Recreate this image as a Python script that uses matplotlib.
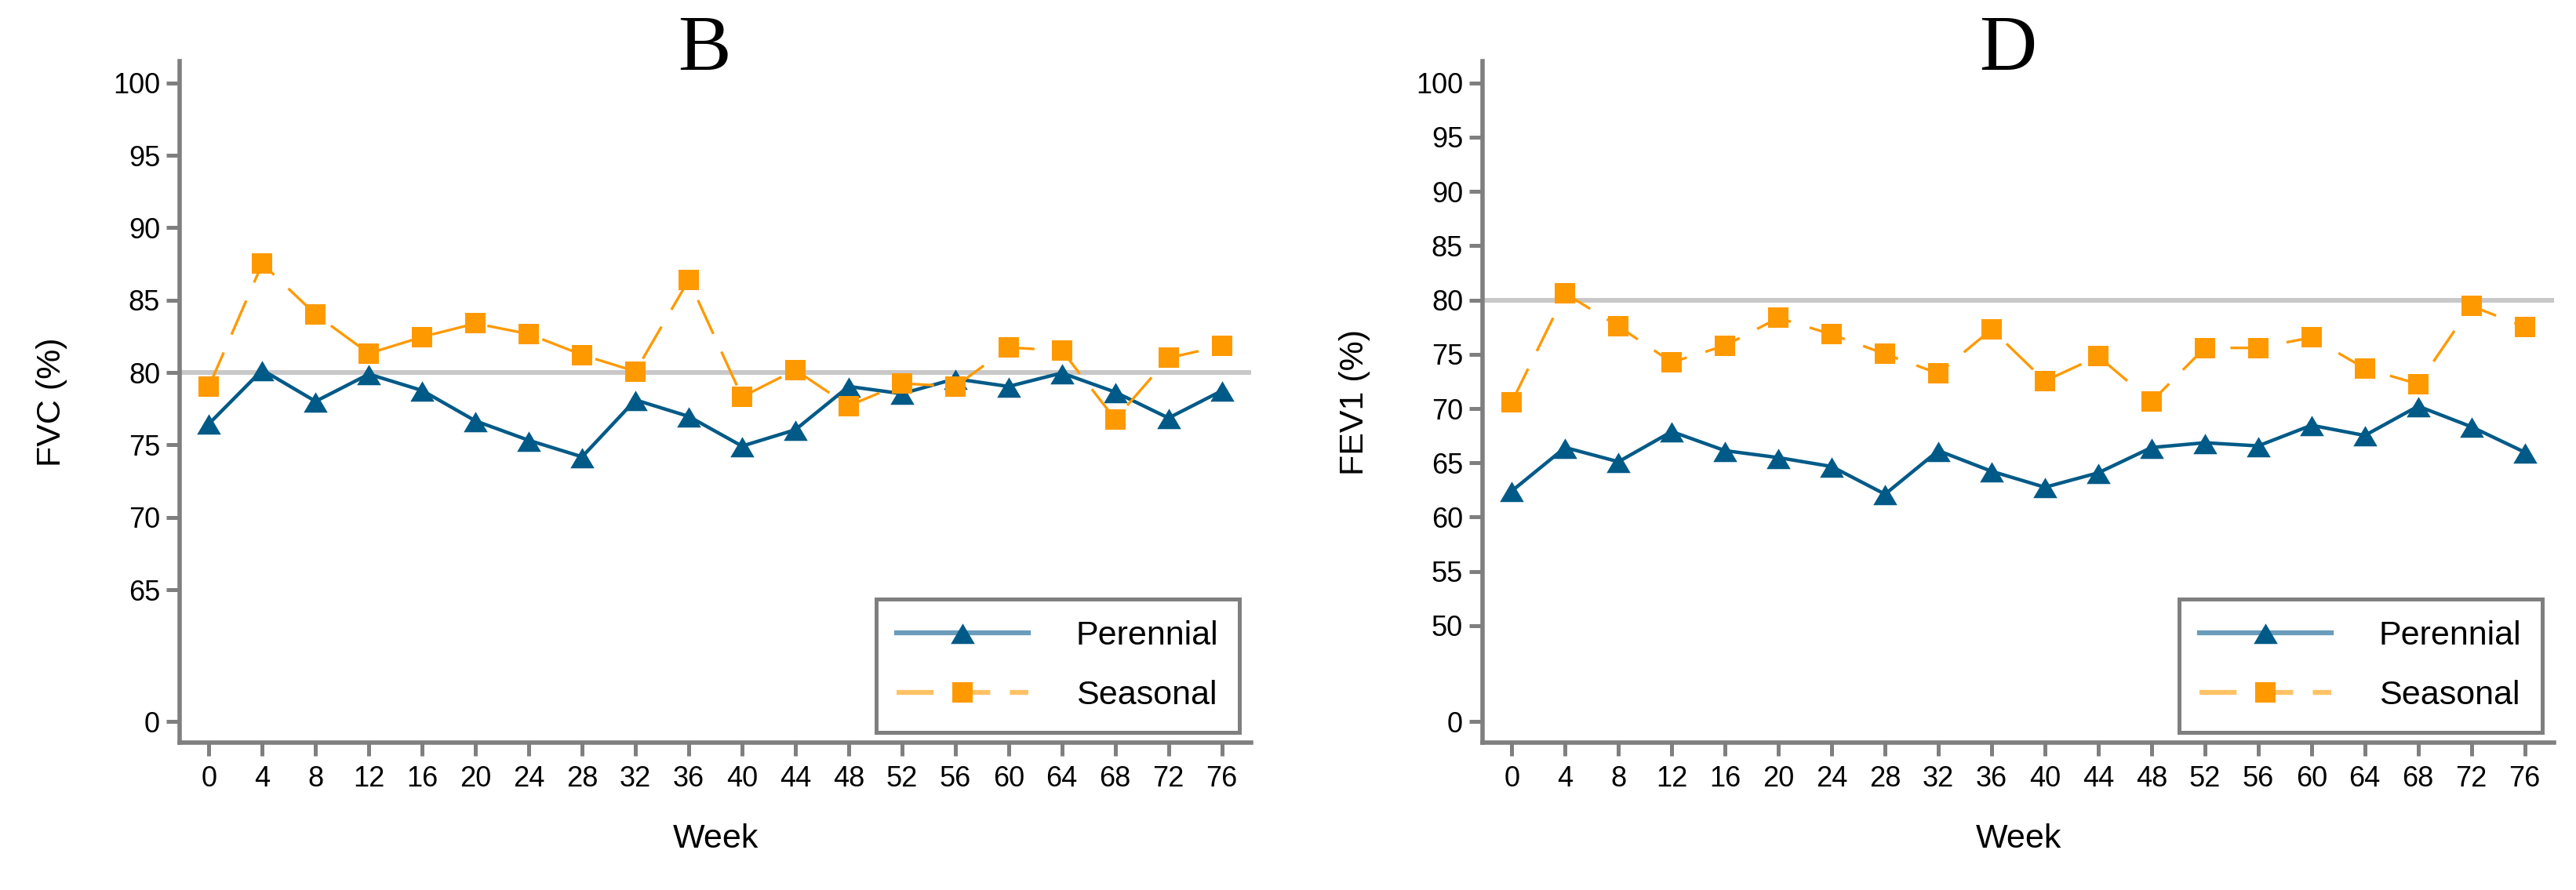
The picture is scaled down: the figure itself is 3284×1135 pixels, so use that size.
import matplotlib
matplotlib.use("Agg")
import matplotlib.pyplot as plt
import numpy as np
from matplotlib.lines import Line2D

# data
weeks = list(range(0, 80, 4))
fvc_perennial = [76.46, 80.18, 78.01, 79.89, 78.76, 76.66, 75.32, 74.18, 78.11, 76.97,
                 74.92, 76.05, 79.04, 78.54, 79.57, 79.04, 79.97, 78.65, 76.86, 78.74]
fvc_seasonal = [79.04, 87.52, 84.01, 81.32, 82.46, 83.39, 82.66, 81.22, 80.08, 86.39,
                78.32, 80.18, 77.70, 79.25, 79.04, 81.73, 81.52, 76.77, 81.01, 81.84]
fev1_perennial = [62.41, 66.41, 65.10, 67.88, 66.12, 65.48, 64.66, 62.11, 66.12, 64.22,
                  62.75, 64.08, 66.41, 66.85, 66.56, 68.46, 67.52, 70.22, 68.32, 65.98]
fev1_seasonal = [70.61, 80.61, 77.57, 74.26, 75.80, 78.35, 76.83, 75.03, 73.23, 77.30,
                 72.54, 74.81, 70.66, 75.59, 75.59, 76.55, 73.70, 72.26, 79.45, 77.52]
fvc_yticks = [0, 65, 70, 75, 80, 85, 90, 95, 100]
fev1_yticks = [0, 50, 55, 60, 65, 70, 75, 80, 85, 90, 95, 100]
ref_value = 80
series_names = ["Perennial", "Seasonal"]

plt.rcParams['font.family'] = ['Liberation Sans', 'DejaVu Sans']
plt.rcParams['lines.scale_dashes'] = False

BLUE = '#005a87'
BLUE_L = '#6a9cbb'
ORANGE = '#ff9900'
ORANGE_L = '#ffc266'
GRAY = '#7f7f7f'
tri = [(0, 0.8), (-1, -0.9), (1, -0.9), (0, 0.8)]
dash = (34, 18)


def broken_scale(lo, zero_at):
    # values below lo are squeezed so that 0 sits just under lo
    k = (lo - zero_at) / lo

    def fwd(y):
        y = np.asarray(y, float)
        return np.where(y >= lo, y, zero_at + y * k)

    def inv(t):
        t = np.asarray(t, float)
        return np.where(t >= lo, t, (t - zero_at) / k)
    return fwd, inv


fig = plt.figure(figsize=(32.84, 11.35), dpi=100)
W, H = 3284, 1135

panels = [
    dict(x0=229, title="B", ylabel="FVC (%)", per=fvc_perennial, sea=fvc_seasonal,
         ticks=fvc_yticks, lo=65, zero_at=55.9, bottom=54.45, top=101.5),
    dict(x0=1890, title="D", ylabel="FEV1 (%)", per=fev1_perennial, sea=fev1_seasonal,
         ticks=fev1_yticks, lo=50, zero_at=41.18, bottom=39.23, top=102.0),
]

for p in panels:
    ax = fig.add_axes([p['x0'] / W, 188 / H, 1366 / W, 869 / H])
    fwd, inv = broken_scale(p['lo'], p['zero_at'])
    ax.set_yscale('function', functions=(fwd, inv))

    ax.axhline(ref_value, color='#c8c8c8', lw=4.3, zorder=1)
    ax.plot(weeks, p['per'], color=BLUE, lw=3.2, marker=tri, markersize=22,
            markeredgewidth=0, zorder=3)
    ax.plot(weeks, p['sea'], color=ORANGE, lw=2.4, dashes=dash, marker='s',
            markersize=19, markeredgewidth=0, zorder=4)

    ax.set_xlim(-2.2, 78.2)
    ax.set_ylim(float(inv(p['bottom'])), p['top'])
    ax.set_xticks(weeks)
    ax.set_yticks(p['ticks'])
    ax.set_yticklabels([str(t) for t in p['ticks']])
    ax.minorticks_off()

    for s in ['top', 'right']:
        ax.spines[s].set_visible(False)
    for s in ['left', 'bottom']:
        ax.spines[s].set_color(GRAY)
        ax.spines[s].set_linewidth(4)
    ax.tick_params(direction='out', length=12, width=3.6, color=GRAY,
                   labelsize=26, pad=6)
    ax.tick_params(axis='x', pad=9)

    ax.set_xlabel("Week", fontsize=31, labelpad=28)
    ax.set_ylabel(p['ylabel'], fontsize=31, labelpad=42)
    ax.text(0.49, 0.986, p['title'], transform=ax.transAxes, ha='center',
            va='baseline', fontsize=73, family='Liberation Serif')

    handles = [
        Line2D([], [], color=BLUE_L, lw=4.5, marker=tri, markersize=22,
               markerfacecolor=BLUE, markeredgewidth=0),
        Line2D([], [], color=ORANGE_L, lw=4.5, dashes=dash, marker='s',
               markersize=19, markerfacecolor=ORANGE, markeredgewidth=0),
    ]
    leg = ax.legend(handles, series_names, loc='lower right',
                    bbox_to_anchor=(0.989, 0.015), fontsize=31, fancybox=False,
                    edgecolor=GRAY, handlelength=3.9, handletextpad=1.4,
                    labelspacing=0.85, borderpad=0.62, borderaxespad=0,
                    framealpha=1)
    leg.get_frame().set_linewidth(3.6)

fig.savefig("out.png", dpi=100)
